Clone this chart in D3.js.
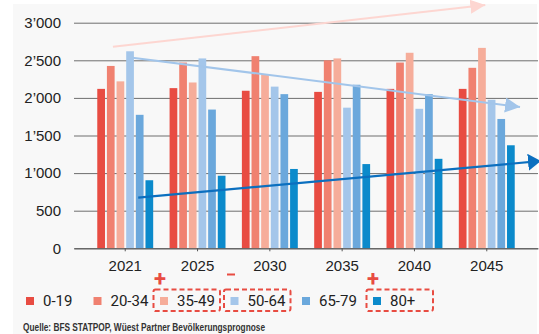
<!DOCTYPE html>
<html>
<head>
<meta charset="utf-8">
<script src="https://cdn.jsdelivr.net/npm/d3@7"></script>
<style>
  html, body { margin: 0; padding: 0; background: #fff; }
  svg { display: block; font-family: Roboto, "Liberation Sans", sans-serif; }
  .grid line { stroke: #6e6e6e; stroke-width: 1; }
  .grid .domain { display: none; }
  .tick text { fill: #222; font-size: 15px; }
</style>
</head>
<body>
<div id="chart"></div>
<script>
// population by age group (thousands)
var years = ["2021", "2025", "2030", "2035", "2040", "2045"];
var groups = ["0-19", "20-34", "35-49", "50-64", "65-79", "80+"];
var colors = ["#e84c42", "#f08170", "#f6ad9a", "#a4c6ea", "#6ba8dc", "#0b8acb"];

var age0_19  = [2120, 2130, 2095, 2080, 2120, 2120];
var age20_34 = [2425, 2470, 2555, 2500, 2470, 2400];
var age35_49 = [2220, 2205, 2315, 2525, 2600, 2665];
var age50_64 = [2620, 2525, 2150, 1870, 1855, 1975];
var age65_79 = [1775, 1845, 2050, 2175, 2050, 1720];
var age80    = [905, 965, 1055, 1120, 1190, 1370];

var yTicks = [0, 500, 1000, 1500, 2000, 2500, 3000];

// trend arrows: [year index, value] start and end
var arrowPink  = [[-0.17, 2680], [4.98, 3235]];
var arrowLight = [[0.10, 2535], [5.46, 1880]];
var arrowDark  = [[0.18, 673], [5.75, 1161]];

// legend items that are marked, with the sign above them
var marked = [{ group: "35-49", sign: "+" }, { group: "50-64", sign: "-" }, { group: "80+", sign: "+" }];

var source = "Quelle: BFS STATPOP, Wüest Partner Bevölkerungsprognose";

(function(){

  var series = [age0_19, age20_34, age35_49, age50_64, age65_79, age80];

  var svg = d3.select("#chart").append("svg")
              .attr("width", 539)
              .attr("height", 334);

  // light grey panel behind everything
  svg.append("rect")
      .attr("x", 13).attr("y", 4)
      .attr("width", 524).attr("height", 330)
      .attr("fill", "#f8f8f8");

  var left = 74, right = 538, top = 22.7, bottom = 248.3;

  var x0 = d3.scaleBand().domain(years).range([left, right])
             .paddingInner(0.2).paddingOuter(0.3085);
  var x1 = d3.scaleBand().domain(groups).range([0, x0.bandwidth()])
             .paddingInner(0.2).paddingOuter(0.1);
  var y = d3.scaleLinear().domain([0, 3000]).range([bottom, top]);
  var color = d3.scaleOrdinal().domain(groups).range(colors);
  var xi = d3.scaleLinear().domain([0, years.length - 1])
             .range([x0(years[0]) + x0.bandwidth() / 2, x0(years[years.length - 1]) + x0.bandwidth() / 2]);

  // y gridlines with labels
  svg.append("g")
      .attr("class", "grid")
      .attr("transform", "translate(" + left + ",0)")
      .call(d3.axisLeft(y).tickValues(yTicks)
          .tickSize(-(right - left))
          .tickPadding(13)
          .tickFormat(function(d){ return d3.format(",")(d).replace(",", "\u2019"); }))
      .selectAll(".tick line").attr("stroke", "#6e6e6e");

  // bars
  var bars = [];
  years.forEach(function(yr, i) {
    groups.forEach(function(g, j) {
      bars.push({ year: yr, group: g, value: series[j][i] });
    });
  });

  svg.append("g").selectAll("rect")
      .data(bars)
      .enter().append("rect")
      .attr("x", function(d){ return x0(d.year) + x1(d.group); })
      .attr("y", function(d){ return y(d.value); })
      .attr("width", x1.bandwidth())
      .attr("height", function(d){ return y(0) - y(d.value); })
      .attr("fill", function(d){ return color(d.group); });

  // x axis
  var xAxis = svg.append("g")
      .attr("transform", "translate(0," + bottom + ")")
      .call(d3.axisBottom(x0).tickSize(3).tickPadding(9).tickSizeOuter(0));
  xAxis.select(".domain").attr("stroke", "#555");
  xAxis.selectAll(".tick line").attr("stroke", "#555");

  // trend arrows
  var defs = svg.append("defs");
  function arrow(pts, col, w, id, hl, hw) {
    defs.append("marker")
        .attr("id", id)
        .attr("markerUnits", "userSpaceOnUse")
        .attr("viewBox", "0 0 " + hl + " " + hw)
        .attr("refX", hl).attr("refY", hw / 2)
        .attr("markerWidth", hl).attr("markerHeight", hw)
        .attr("orient", "auto")
        .append("path")
        .attr("d", "M0,0L" + hl + "," + (hw / 2) + "L0," + hw + "Z")
        .attr("fill", col);
    svg.append("path")
        .datum(pts)
        .attr("d", d3.line()
            .x(function(d){ return xi(d[0]); })
            .y(function(d){ return y(d[1]); }))
        .attr("fill", "none")
        .attr("stroke", col)
        .attr("stroke-width", w)
        .attr("marker-end", "url(#" + id + ")");
  }
  arrow(arrowPink, "#fdd6d1", 2, "headPink", 15, 14);
  arrow(arrowLight, "#a2c5ea", 2, "headLight", 15, 15);
  arrow(arrowDark, "#0b6fbf", 2.2, "headDark", 13, 17);

  // legend
  var legendX = [26, 93.5, 160, 230.5, 302, 373];
  var legend = svg.append("g").selectAll("g")
      .data(groups)
      .enter().append("g")
      .attr("transform", function(d, i){ return "translate(" + legendX[i] + ",297)"; });
  legend.append("rect")
      .attr("width", 8).attr("height", 8)
      .attr("fill", function(d){ return color(d); });
  legend.append("text")
      .attr("x", 17).attr("y", 9)
      .attr("font-size", 15)
      .attr("fill", "#222")
      .text(function(d){ return d; });

  // dashed boxes and signs around marked legend items
  marked.forEach(function(m) {
    var i = groups.indexOf(m.group);
    var bx = legendX[i] - 6.5;
    svg.append("rect")
        .attr("x", bx).attr("y", 289.5)
        .attr("width", 66.5).attr("height", 21.5)
        .attr("rx", 2)
        .attr("fill", "none")
        .attr("stroke", "#e84c42")
        .attr("stroke-width", 2)
        .attr("stroke-dasharray", "5,3");
    if (m.sign == "+") {
      svg.append("text")
          .attr("x", bx + 6.5).attr("y", 286)
          .attr("text-anchor", "middle")
          .attr("font-size", 22)
          .attr("font-weight", "bold")
          .attr("fill", "#e84c42")
          .text("+");
    } else {
      svg.append("rect")
          .attr("x", bx + 3).attr("y", 273.5)
          .attr("width", 8).attr("height", 2)
          .attr("fill", "#e84c42");
    }
  });

  // source
  svg.append("text")
      .attr("x", 23).attr("y", 331)
      .attr("font-family", "'Liberation Sans Narrow', 'Liberation Sans', sans-serif")
      .attr("font-size", 10)
      .attr("font-weight", "bold")
      .attr("fill", "#333")
      .attr("textLength", 242)
      .attr("lengthAdjust", "spacingAndGlyphs")
      .text(source);

  console.log("chart drawn");
})();
</script>
</body>
</html>
